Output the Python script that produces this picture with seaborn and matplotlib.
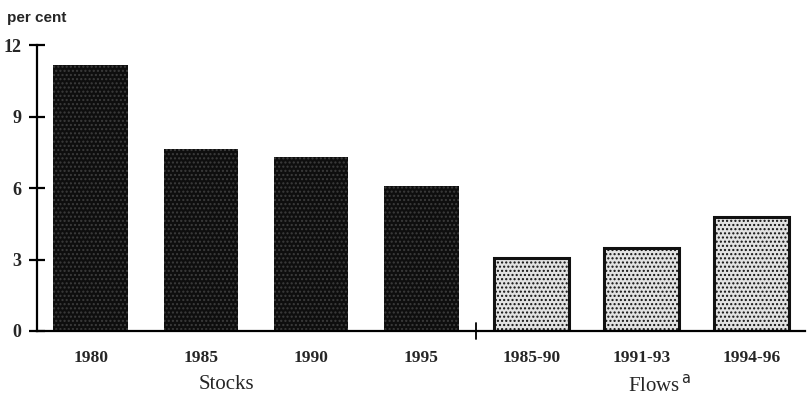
import matplotlib
matplotlib.use("Agg")
import matplotlib.pyplot as plt
import seaborn as sns
import pandas as pd

# values (per cent)
periods = ["1980", "1985", "1990", "1995", "1985-90", "1991-93", "1994-96"]
shares = [11.15, 7.65, 7.3, 6.08, 3.06, 3.47, 4.78]
kind = ["Stocks", "Stocks", "Stocks", "Stocks", "Flows", "Flows", "Flows"]

df = pd.DataFrame({"period": periods, "share": shares, "kind": kind})

sns.set_style("white")
plt.rcParams["font.family"] = ["Liberation Serif", "DejaVu Serif"]

fig = plt.figure(figsize=(8.07, 4.01), dpi=100)
ax = fig.add_axes([0.0458, 0.1746, 0.952, 0.713])

sns.barplot(data=df, x="period", y="share", hue="kind",
            palette={"Stocks": "#0e0e0e", "Flows": "#e2e2e2"},
            dodge=False, width=0.68, legend=False, ax=ax)

for bar, k in zip(ax.patches, df["kind"]):
    if k == "Stocks":
        bar.set_edgecolor("#3c3c3c")
        bar.set_hatch("....")
        bar.set_linewidth(0.0)
    else:
        bar.set_edgecolor("#111111")
        bar.set_hatch("....")
        bar.set_linewidth(2.2)

ax.set_xlim(-0.49, 6.49)
ax.set_ylim(0, 12)
ax.set_yticks([0, 3, 6, 9, 12])
ax.set_yticklabels(["0", "3", "6", "9", "12"], fontsize=13, fontweight="bold")
ax.set_xticks(range(len(periods)))
ax.set_xticklabels(periods, fontsize=12.5, fontweight="bold")
ax.tick_params(axis="y", left=True, direction="inout", length=12, width=1.6,
               color="black", pad=5)
ax.tick_params(axis="x", bottom=False, length=0, pad=14)
ax.set_xlabel("")
ax.set_ylabel("")

# separator tick between stocks and flows
ax.plot([3.5, 3.5], [-0.35, 0.35], color="black", lw=1.3, clip_on=False)

for side in ["top", "right"]:
    ax.spines[side].set_visible(False)
for side in ["left", "bottom"]:
    ax.spines[side].set_color("black")
    ax.spines[side].set_linewidth(1.6)

fig.text(0.009, 0.955, "per cent", fontsize=11, fontweight="bold",
         family=["Liberation Sans", "DejaVu Sans"], va="center")
fig.text(0.281, 0.04, "Stocks", fontsize=15, ha="center", va="center")
fig.text(0.818, 0.04, "Flows$^{\\,\\mathrm{a}}$", fontsize=15, ha="center", va="center")

fig.savefig("out.png", dpi=100)
